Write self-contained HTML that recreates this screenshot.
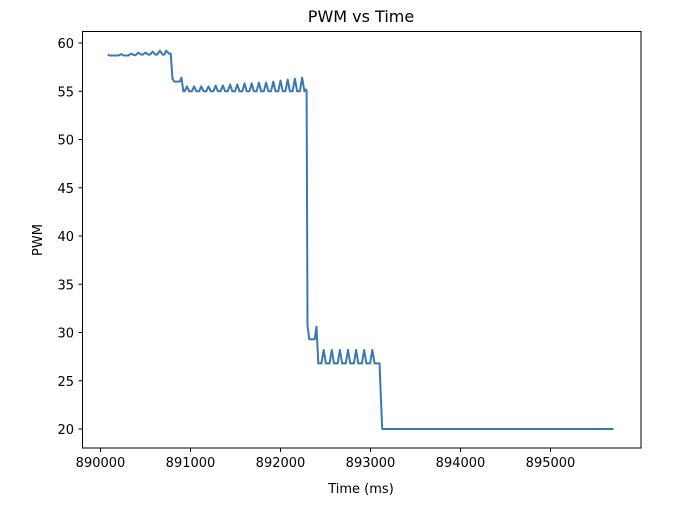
<!DOCTYPE html>
<html><head><meta charset="utf-8"><style>
body{margin:0;background:#fff;}
svg text{font-family:"DejaVu Sans","Liberation Sans",sans-serif;fill:#000;}
</style></head><body>
<svg id="chart" width="673" height="515" viewBox="0 0 673 515" xmlns="http://www.w3.org/2000/svg">
<rect width="673" height="515" fill="#fff"/>
<text x="361" y="22" font-size="16" text-anchor="middle">PWM vs Time</text>
<text x="361" y="493" font-size="13" text-anchor="middle">Time (ms)</text>
<text x="0" y="0" font-size="13" text-anchor="middle" transform="translate(42,240) rotate(-90)">PWM</text>
<g id="ticks"></g>
<path id="line" fill="none" stroke="#3a78b5" stroke-width="2" stroke-linejoin="round"/>
<rect x="82.5" y="31.5" width="558.5" height="416.5" fill="none" stroke="#000" stroke-width="1"/>
</svg>
<script>
const xTicks=[890000,891000,892000,893000,894000,895000];
const yTicks=[20,25,30,35,40,45,50,55,60];
const seg1Times=[890080,890100,890200,890230,890260,890310,890340,890370,890390,890420,890450,890470,890500,890530,890550,890580,890610,890630,890660,890690,890710,890730,890760,890780,890800,890820,890880,890900,890920];
const seg1Values=[58.8,58.7,58.7,58.85,58.7,58.7,58.9,58.75,58.75,59.0,58.8,58.8,59.0,58.8,58.8,59.1,58.8,58.8,59.2,58.8,58.8,59.2,58.9,58.9,56.3,56.0,56.0,56.4,55.0];
const peak2Times=[890960,891040,891120,891200,891280,891360,891440,891520,891600,891680,891760,891840,891920,892000,892080,892160,892240];
const peak2Values=[55.5,55.5,55.5,55.5,55.6,55.6,55.7,55.7,55.8,55.8,55.9,55.9,56.0,56.1,56.2,56.3,56.4];
const base2=55.0;
const seg2Times=[892270,892290,892300,892320,892380,892400,892420];
const seg2Values=[55.2,55.1,30.7,29.3,29.3,30.6,26.8];
const peak3Times=[892480,892570,892660,892750,892840,892930,893020];
const peak3Values=[28.2,28.2,28.2,28.2,28.2,28.2,28.2];
const base3=26.8;
const seg3Times=[893080,893100,893130,895700];
const seg3Values=[26.8,26.8,20,20];

const X=t=>100.5+(t-890000)*0.09;
const Y=v=>429-(v-20)*9.65;
const NS="http://www.w3.org/2000/svg";
const tg=document.getElementById('ticks');
function mk(tag,attrs){const e=document.createElementNS(NS,tag);for(const k in attrs)e.setAttribute(k,attrs[k]);tg.appendChild(e);return e;}
xTicks.forEach(t=>{
 const l=mk('line',{x1:X(t),x2:X(t),y1:448,y2:452,stroke:'#000'});
 
 
 const tx=mk('text',{x:X(t),y:467,'font-size':13,'text-anchor':'middle'});tx.textContent=t;
 
 
});
yTicks.forEach(v=>{
 const l=mk('line',{x1:78.5,x2:82.5,y1:Y(v),y2:Y(v),stroke:'#000'});
 
 
 const tx=mk('text',{x:74,y:Y(v)+5,'font-size':13,'text-anchor':'end'});tx.textContent=v;
 
 
});
const pts=[];
seg1Times.forEach((t,i)=>pts.push([t,seg1Values[i]]));
peak2Times.forEach((t,i)=>{pts.push([t-25,base2]);pts.push([t,peak2Values[i]]);pts.push([t+25,base2]);});
seg2Times.forEach((t,i)=>pts.push([t,seg2Values[i]]));
peak3Times.forEach((t,i)=>{pts.push([t-25,base3]);pts.push([t,peak3Values[i]]);pts.push([t+25,base3]);});
seg3Times.forEach((t,i)=>pts.push([t,seg3Values[i]]));
document.getElementById('line').setAttribute('d',pts.map((p,i)=>(i?'L':'M')+X(p[0]).toFixed(1)+','+Y(p[1]).toFixed(1)).join(''));
</script>
</body></html>
